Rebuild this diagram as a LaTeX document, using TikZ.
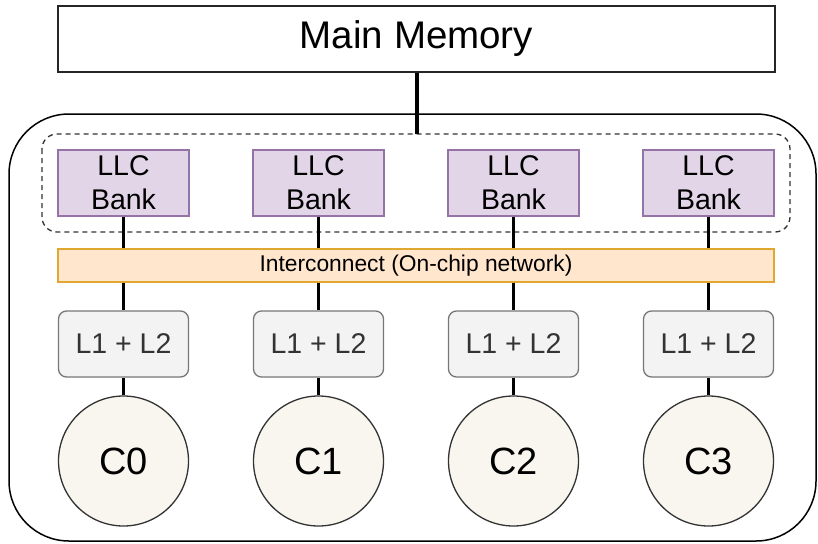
\documentclass[tikz,border=0pt]{standalone}
\usepackage{fontspec}
\setmainfont{Liberation Sans}
\definecolor{llcfill}{HTML}{E1D5E7}
\definecolor{llcdraw}{HTML}{9673A6}
\definecolor{icfill}{HTML}{FFE6CC}
\definecolor{icdraw}{HTML}{E0A830}
\definecolor{cachefill}{HTML}{F3F3F3}
\definecolor{cachedraw}{HTML}{777777}
\definecolor{cachetext}{HTML}{333333}
\definecolor{corefill}{HTML}{F8F6EE}
\begin{document}
\begin{tikzpicture}[x=1pt,y=-1pt,
  llc/.style={draw=llcdraw,fill=llcfill,line width=1.3pt,minimum width=131pt,minimum height=66pt,inner sep=0pt,align=center,font=\fontsize{28.5}{34}\selectfont},
  cache/.style={draw=cachedraw,fill=cachefill,line width=1.3pt,rounded corners=8pt,minimum width=130pt,minimum height=66pt,inner sep=0pt,text=cachetext,font=\fontsize{28.5}{34}\selectfont},
  core/.style={circle,draw=black!80,fill=corefill,line width=1.3pt,minimum size=130pt,inner sep=0pt,font=\fontsize{38}{44}\selectfont},
  conn/.style={line width=3pt,black},
]
\useasboundingbox (0,0) rectangle (818,543);
% outer chip
\draw[line width=1.5pt,rounded corners=60pt] (9,114) rectangle (816,541);
% main memory
\node[draw=black!85,line width=1.5pt,minimum width=717pt,minimum height=66pt,inner sep=0pt,font=\fontsize{38.5}{44}\selectfont] (mm) at (416.5,39) {Main Memory};
% dashed LLC group
\draw[dashed,line width=1.3pt,black!80,dash pattern=on 5pt off 4pt,rounded corners=15pt] (42,134) rectangle (790,232);
\coordinate (dtop) at (416.5,134);
\draw[line width=4pt] (mm.south) -- (dtop);
% interconnect
\node[draw=icdraw,fill=icfill,line width=1.3pt,minimum width=716pt,minimum height=33pt,inner sep=0pt,font=\fontsize{22.8}{27}\selectfont] (ic) at (416,265.5) {Interconnect (On-chip network)};
\foreach \i/\x in {0/123.5,1/318.5,2/513.5,3/708.5}{
  \node[llc] (llc\i) at (\x,183) {LLC\\Bank};
  \node[cache] (c\i) at (\x,344) {L1 + L2};
  \node[core] (core\i) at (\x,461) {C\i};
  \draw[conn] (llc\i.south) -- (llc\i.south |- ic.north);
  \draw[conn] (c\i.north |- ic.south) -- (c\i.north);
  \draw[conn] (c\i.south) -- (core\i.north);
}
\end{tikzpicture}
\end{document}
